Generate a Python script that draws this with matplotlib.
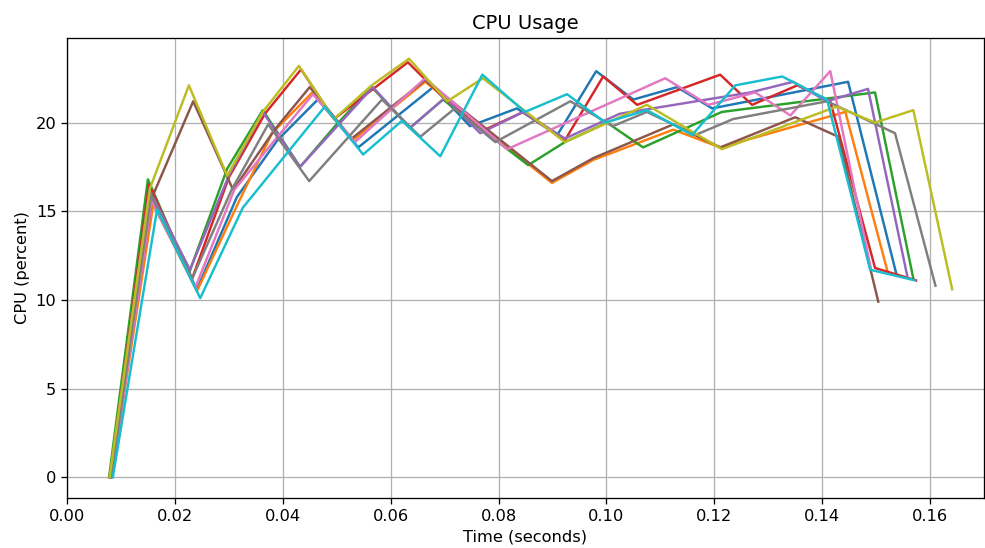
import matplotlib
matplotlib.use("Agg")
import matplotlib.pyplot as plt

# CPU usage runs (time in seconds, cpu in percent)
t_blue = [0.0081, 0.0158, 0.0241, 0.0315, 0.0390, 0.0465, 0.0540, 0.0679, 0.0747, 0.0834,
          0.0909, 0.0981, 0.1050, 0.1131, 0.1196, 0.1448, 0.1538]
c_blue = [0, 15.5, 10.6, 15.8, 19.0, 21.3, 18.6, 22.0, 19.8, 20.8,
          19.3, 22.9, 21.3, 22.0, 20.8, 22.3, 11.4]

t_orange = [0.0082, 0.0160, 0.0241, 0.0318, 0.0380, 0.0455, 0.0530, 0.0664, 0.0899, 0.0976,
            0.1124, 0.1211, 0.1443, 0.1522]
c_orange = [0, 15.4, 10.5, 15.5, 19.4, 21.7, 19.0, 22.3, 16.6, 17.9,
            19.6, 18.6, 20.6, 11.5]

t_green = [0.0078, 0.0150, 0.0226, 0.0297, 0.0363, 0.0432, 0.0497, 0.0565, 0.0636, 0.0697,
           0.0855, 0.0923, 0.1001, 0.1068, 0.1214, 0.1498, 0.1569]
c_green = [0, 16.8, 11.5, 17.4, 20.7, 17.5, 19.8, 22.0, 19.7, 21.3,
           17.6, 18.9, 20.0, 18.6, 20.6, 21.7, 11.2]

t_red = [0.0080, 0.0152, 0.0232, 0.0300, 0.0367, 0.0434, 0.0495, 0.0632, 0.0705, 0.0775,
         0.0846, 0.0923, 0.0994, 0.1057, 0.1211, 0.1270, 0.1354, 0.1415, 0.1498, 0.1574]
c_red = [0, 16.5, 11.2, 16.9, 20.5, 23.0, 20.2, 23.4, 21.2, 19.6,
         20.6, 19.0, 22.6, 21.0, 22.7, 21.0, 22.1, 21.2, 11.8, 11.1]

t_purple = [0.0080, 0.0153, 0.0228, 0.0300, 0.0363, 0.0432, 0.0567, 0.0636, 0.0701, 0.0766,
            0.0846, 0.0923, 0.1025, 0.1267, 0.1346, 0.1409, 0.1485, 0.1558]
c_purple = [0, 16.2, 11.7, 17.0, 20.6, 17.5, 22.0, 19.7, 21.4, 19.4,
            20.6, 19.1, 20.5, 21.7, 22.3, 21.2, 21.9, 11.3]

t_brown = [0.0082, 0.0158, 0.0234, 0.0308, 0.0385, 0.0450, 0.0528, 0.0664, 0.0899, 0.0976,
           0.1124, 0.1211, 0.1350, 0.1430, 0.1504]
c_brown = [0, 15.8, 21.2, 16.2, 19.6, 22.0, 19.1, 22.4, 16.7, 18.0,
           19.9, 18.6, 20.3, 19.2, 9.9]

t_pink = [0.0083, 0.0157, 0.0238, 0.0310, 0.0385, 0.0456, 0.0534, 0.0664, 0.0816, 0.1109,
          0.1189, 0.1276, 0.1341, 0.1415, 0.1490]
c_pink = [0, 15.6, 10.7, 16.2, 19.0, 21.6, 18.9, 22.5, 18.5, 22.5,
          21.0, 21.7, 20.4, 22.9, 11.8]

t_gray = [0.0082, 0.0156, 0.0232, 0.0305, 0.0373, 0.0449, 0.0584, 0.0655, 0.0719, 0.0794,
          0.0933, 0.1012, 0.1075, 0.1165, 0.1235, 0.1409, 0.1535, 0.1610]
c_gray = [0, 15.9, 11.2, 16.2, 19.9, 16.7, 21.3, 19.2, 20.8, 18.9,
          21.2, 19.8, 20.6, 19.3, 20.2, 21.2, 19.4, 10.8]

t_olive = [0.0079, 0.0154, 0.0226, 0.0297, 0.0363, 0.0430, 0.0495, 0.0565, 0.0634, 0.0705,
           0.0771, 0.0923, 0.1075, 0.1214, 0.1427, 0.1498, 0.1569, 0.1641]
c_olive = [0, 16.3, 22.1, 17.0, 20.6, 23.2, 20.2, 22.1, 23.6, 21.2,
           22.5, 18.9, 21.0, 18.5, 20.9, 20.0, 20.7, 10.6]

t_cyan = [0.0085, 0.0167, 0.0247, 0.0326, 0.0478, 0.0549, 0.0621, 0.0692, 0.0770, 0.0849,
          0.0927, 0.0998, 0.1075, 0.1159, 0.1239, 0.1326, 0.1409, 0.1489, 0.1572]
c_cyan = [0, 15.1, 10.1, 15.2, 20.9, 18.2, 20.1, 18.1, 22.7, 20.6,
          21.6, 20.0, 20.7, 19.3, 22.1, 22.6, 21.3, 11.7, 11.1]

runs = [(t_blue, c_blue), (t_orange, c_orange), (t_green, c_green), (t_red, c_red),
        (t_purple, c_purple), (t_brown, c_brown), (t_pink, c_pink), (t_gray, c_gray),
        (t_olive, c_olive), (t_cyan, c_cyan)]

# reference looks rendered at ~1.17x the default scale
s = 1.17
plt.rcParams.update({
    "font.size": 10 * s,
    "axes.titlesize": 12 * s,
    "axes.linewidth": 0.8 * s,
    "grid.linewidth": 0.8 * s,
    "xtick.major.width": 0.8 * s,
    "ytick.major.width": 0.8 * s,
    "xtick.major.size": 3.5 * s,
    "ytick.major.size": 3.5 * s,
})

fig = plt.figure(figsize=(9.85, 5.48), dpi=100)
ax = fig.add_axes([0.068, 0.091, 0.931, 0.84])

for t, c in runs:
    ax.plot(t, c, linewidth=1.5 * s)

ax.set_xlim(0, 0.17)
ax.grid(True)
ax.set_title("CPU Usage")
ax.set_xlabel("Time (seconds)")
ax.set_ylabel("CPU (percent)")

fig.savefig("out.png", dpi=100)
